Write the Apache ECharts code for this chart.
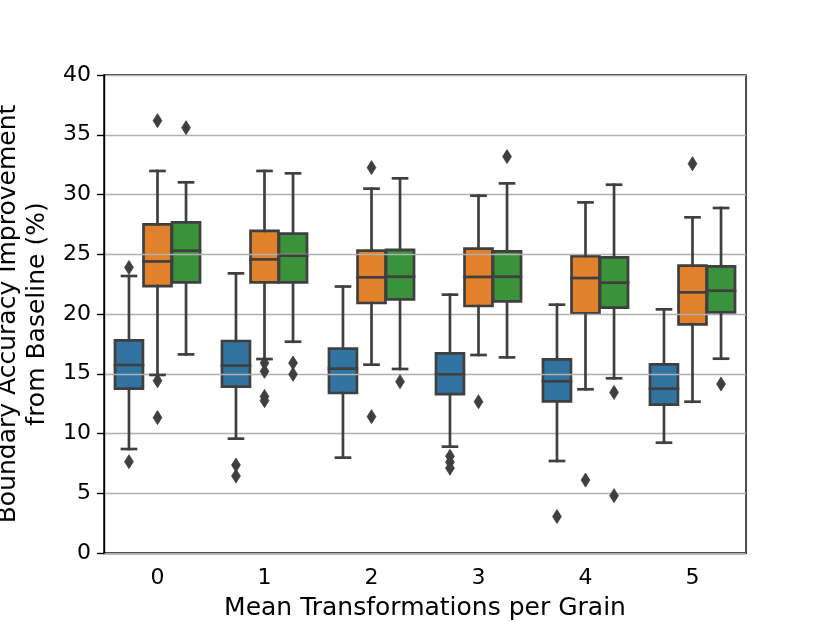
<!DOCTYPE html>
<html>
<head>
<meta charset="utf-8">
<script src="https://cdn.jsdelivr.net/npm/echarts@6/dist/echarts.min.js"></script>
<style>
html,body{margin:0;padding:0;background:#fff}
#chart{width:830px;height:622px}
</style>
</head>
<body>
<div id="chart"></div>
<script>
// categories on the x axis
var categories = ['0', '1', '2', '3', '4', '5'];
var yTicks = [0, 5, 10, 15, 20, 25, 30, 35, 40];

// box stats per category: [lower whisker, q1, median, q3, upper whisker]
var blueStats = [
    [8.7, 13.75, 15.73, 17.8, 23.18],
    [9.57, 13.92, 15.68, 17.74, 23.4],
    [7.98, 13.39, 15.43, 17.1, 22.3],
    [8.9, 13.3, 14.95, 16.71, 21.62],
    [7.7, 12.69, 14.37, 16.2, 20.78],
    [9.23, 12.41, 13.75, 15.79, 20.39]
];
var orangeStats = [
    [14.9, 22.34, 24.4, 27.5, 31.97],
    [16.23, 22.65, 24.57, 26.95, 31.97],
    [15.76, 20.92, 23.07, 25.3, 30.49],
    [16.57, 20.67, 23.1, 25.47, 29.9],
    [13.7, 20.06, 23.01, 24.85, 29.34],
    [12.66, 19.14, 21.81, 24.04, 28.09]
];
var greenStats = [
    [16.62, 22.65, 25.3, 27.67, 31.02],
    [17.68, 22.65, 24.88, 26.72, 31.77],
    [15.4, 21.23, 23.12, 25.36, 31.35],
    [16.37, 21.06, 23.12, 25.24, 30.93],
    [14.62, 20.53, 22.62, 24.74, 30.82],
    [16.26, 20.14, 21.95, 23.99, 28.87]
];

// outliers: [category index, value]
var blueOutliers = [[0, 23.9], [0, 7.64], [1, 7.36], [1, 6.44], [3, 8.1], [3, 7.6], [3, 7.1], [4, 3.05]];
var orangeOutliers = [[0, 36.18], [0, 14.42], [0, 11.33], [1, 15.9], [1, 15.2], [1, 13.1], [1, 12.75],
    [2, 32.25], [2, 11.41], [3, 12.66], [4, 6.1], [5, 32.58]];
var greenOutliers = [[0, 35.59], [1, 15.9], [1, 14.95], [2, 14.34], [3, 33.17], [4, 13.44], [4, 4.8], [5, 14.14]];

var hueColors = ['#3274a1', '#e1812c', '#3a923a'];
var lineColor = '#3f3f3f';
var lw = 2.7;

function toRows(stats) {
    var rows = [];
    for (var i = 0; i < stats.length; i++) {
        rows.push([i].concat(stats[i]));
    }
    return rows;
}

// x centre and width of a hue's box, seaborn style dodge
function place(api, cat, hue) {
    var band = api.size([1, 0])[0];
    var slot = band * 0.8 / 3;
    var cx = api.coord([cat, 0])[0] + (hue - 1) * slot;
    return {cx: cx, w: slot * 0.98};
}

function boxPart(hue) {
    return function (params, api) {
        var cat = api.value(0);
        var p = place(api, cat, hue);
        var yq1 = api.coord([cat, api.value(2)])[1];
        var yq3 = api.coord([cat, api.value(4)])[1];
        return {
            type: 'rect',
            shape: {x: p.cx - p.w / 2, y: yq3, width: p.w, height: yq1 - yq3},
            style: {fill: hueColors[hue], stroke: lineColor, lineWidth: lw}
        };
    };
}

function linePart(hue) {
    return function (params, api) {
        var cat = api.value(0);
        var p = place(api, cat, hue);
        var y = [];
        for (var k = 1; k <= 5; k++) y.push(api.coord([cat, api.value(k)])[1]);
        var st = {stroke: lineColor, lineWidth: lw, lineCap: 'square'};
        var half = p.w / 2, cap = p.w / 4;
        return {
            type: 'group',
            children: [
                {type: 'line', shape: {x1: p.cx, y1: y[1], x2: p.cx, y2: y[0]}, style: st},
                {type: 'line', shape: {x1: p.cx, y1: y[3], x2: p.cx, y2: y[4]}, style: st},
                {type: 'line', shape: {x1: p.cx - cap, y1: y[0], x2: p.cx + cap, y2: y[0]}, style: st},
                {type: 'line', shape: {x1: p.cx - cap, y1: y[4], x2: p.cx + cap, y2: y[4]}, style: st},
                {type: 'line', shape: {x1: p.cx - half, y1: y[2], x2: p.cx + half, y2: y[2]}, style: st}
            ]
        };
    };
}

function flierPart(hue) {
    return function (params, api) {
        var cat = api.value(0);
        var p = place(api, cat, hue);
        var cy = api.coord([cat, api.value(1)])[1];
        var hw = 4.4, hh = 7;
        return {
            type: 'polygon',
            shape: {points: [[p.cx, cy - hh], [p.cx + hw, cy], [p.cx, cy + hh], [p.cx - hw, cy]]},
            style: {fill: lineColor, stroke: lineColor, lineWidth: 0.8}
        };
    };
}

var allStats = [blueStats, orangeStats, greenStats];
var allOutliers = [blueOutliers, orangeOutliers, greenOutliers];
var series = [];
for (var h = 0; h < 3; h++) {
    series.push({
        type: 'custom', z: 1, renderItem: boxPart(h),
        encode: {x: 0, y: [1, 2, 3, 4, 5]}, data: toRows(allStats[h])
    });
    series.push({
        type: 'custom', z: 3, renderItem: linePart(h),
        encode: {x: 0, y: [1, 2, 3, 4, 5]}, data: toRows(allStats[h])
    });
    series.push({
        type: 'custom', z: 4, renderItem: flierPart(h),
        encode: {x: 0, y: 1}, data: allOutliers[h]
    });
}

var font = 'DejaVu Sans';
var option = {
    animation: false,
    textStyle: {fontFamily: font},
    grid: {
        left: 104, right: 84, top: 75, bottom: 69,
        outerBoundsMode: 'none',
        containLabel: false,
        show: true, borderColor: '#000', borderWidth: 1.4, backgroundColor: 'transparent'
    },
    xAxis: {
        type: 'category',
        data: categories,
        name: 'Mean Transformations per Grain',
        nameLocation: 'middle',
        nameGap: 43,
        nameTextStyle: {fontSize: 25, color: '#000', fontFamily: font},
        axisLine: {lineStyle: {color: '#000', width: 1.4}},
        axisTick: {alignWithLabel: true, length: 7, lineStyle: {color: '#000', width: 1.4}},
        axisLabel: {fontSize: 22, color: '#000', margin: 14, fontFamily: font},
        splitLine: {show: false}
    },
    yAxis: {
        type: 'value',
        z: 2,
        min: yTicks[0],
        max: yTicks[yTicks.length - 1],
        interval: 5,
        name: 'Boundary Accuracy Improvement\nfrom Baseline (%)',
        nameLocation: 'middle',
        nameGap: 50,
        nameTextStyle: {fontSize: 25, color: '#000', lineHeight: 29, fontFamily: font},
        axisLine: {show: true, lineStyle: {color: '#000', width: 1.4}},
        axisTick: {show: true, length: 7, lineStyle: {color: '#000', width: 1.4}},
        axisLabel: {fontSize: 22, color: '#000', margin: 13, fontFamily: font},
        splitLine: {show: true, lineStyle: {color: '#b0b0b0', width: 1.4}}
    },
    series: series
};

var myChart = echarts.init(document.getElementById('chart'), null, {renderer: 'canvas'});
myChart.setOption(option);
</script>
</body>
</html>
